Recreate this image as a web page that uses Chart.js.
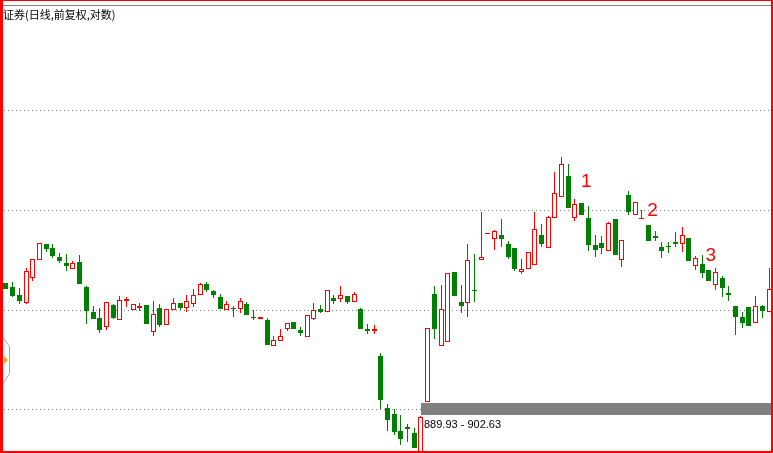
<!DOCTYPE html>
<html><head><meta charset="utf-8">
<script src="https://cdn.jsdelivr.net/npm/chart.js@4/dist/chart.umd.min.js"></script>
<style>html,body{margin:0;padding:0;background:#fff;overflow:hidden}canvas{display:block}</style>
</head><body>
<canvas id="c" width="773" height="453"></canvas>
<script>
const titleText = '证券(日线,前复权,对数)';

const opens = [1039.99, 1035.08, 1025.35, 1015.71, 1046.13, 1068.60, 1089.00, 1083.86, 1072.40, 1064.84,
1057.30, 1066.09, 1035.08, 1004.97, 997.87, 987.33, 1013.31, 995.52, 1018.10, 1007.34,
1009.72, 1013.31, 981.52, 1009.72, 989.67, 1007.34, 1015.71, 1009.72, 1014.51, 1025.35,
1038.76, 1030.20, 1022.93, 1007.34, 1009.72, 1008.52, 1014.51, 999.06, 996.69, 995.52,
965.43, 971.14, 984.99, 993.18, 983.83, 975.74, 996.69, 1008.52, 1004.97, 1021.71,
1020.50, 1024.14, 1016.91, 1008.52, 984.99, 982.68, 954.09, 897.27, 890.94, 873.23,
877.36, 871.17, 847.83, 903.66, 1026.57, 965.43, 970.00, 1053.58, 1016.91, 1015.71,
1031.42, 1068.60, 1101.94, 1095.43, 1100.63, 1089.00, 1083.86, 1053.58, 1057.30, 1062.32,
1100.63, 1083.86, 1122.94, 1151.14, 1180.04, 1122.94, 1143.02, 1122.94, 1087.71, 1090.29,
1080.03, 1121.61, 1068.60, 1153.87, 1126.94, 1121.61, 1113.71, 1099.33, 1085.14, 1086.43,
1091.57, 1089.00, 1096.73, 1061.07, 1063.58, 1056.06, 1037.53, 1046.13, 1027.78, 1012.11,
999.06, 1010.92, 992.01, 1012.11, 1004.97];

const highs = [1039.99, 1041.21, 1033.86, 1058.56, 1069.86, 1090.29, 1089.00, 1089.00, 1077.49, 1076.22,
1067.35, 1074.94, 1036.31, 1012.11, 1009.72, 1016.91, 1014.51, 1024.14, 1022.93, 1014.51,
1015.71, 1013.31, 1018.10, 1014.51, 1008.52, 1021.71, 1015.71, 1025.35, 1032.63, 1039.99,
1041.21, 1031.42, 1026.57, 1018.10, 1012.11, 1021.71, 1016.91, 1007.34, 999.06, 997.87,
976.90, 984.99, 992.01, 993.18, 987.33, 1001.42, 1015.71, 1013.31, 1031.42, 1025.35,
1036.31, 1024.14, 1028.99, 1009.72, 990.84, 989.67, 957.48, 901.53, 896.20, 889.89,
880.48, 876.32, 888.84, 986.16, 1036.31, 1037.53, 1052.34, 1053.58, 1037.53, 1089.00,
1076.22, 1130.93, 1103.24, 1107.14, 1121.61, 1092.86, 1083.86, 1069.86, 1078.76, 1130.93,
1115.03, 1125.61, 1185.63, 1206.81, 1196.89, 1148.41, 1143.02, 1138.97, 1100.63, 1099.33,
1117.66, 1121.61, 1094.14, 1159.32, 1144.37, 1133.60, 1113.71, 1105.84, 1091.57, 1091.57,
1104.54, 1111.07, 1096.73, 1073.67, 1074.94, 1056.06, 1058.56, 1048.61, 1036.31, 1012.11,
1004.97, 1010.92, 1024.14, 1013.31, 1058.56];

const lows = [1032.63, 1022.93, 1014.51, 1014.51, 1042.44, 1068.60, 1078.76, 1071.13, 1064.84, 1054.82,
1057.30, 1038.76, 990.84, 996.69, 980.37, 983.83, 996.69, 995.52, 1010.92, 1007.34,
1006.15, 990.84, 976.90, 987.33, 989.67, 1007.34, 1007.34, 1004.97, 1010.92, 1025.35,
1028.99, 1021.71, 1008.52, 1007.34, 999.06, 1003.79, 1001.42, 995.52, 996.69, 966.57,
965.43, 971.14, 982.68, 984.99, 976.90, 975.74, 995.52, 1003.79, 1004.97, 1014.51,
1016.91, 1014.51, 1016.91, 984.99, 979.21, 979.21, 896.20, 873.23, 869.12, 858.91,
861.96, 855.87, 845.82, 903.66, 973.43, 965.43, 970.00, 1024.14, 1003.79, 999.06,
1016.91, 1068.60, 1101.94, 1081.30, 1085.14, 1069.86, 1054.82, 1051.10, 1057.30, 1062.32,
1085.14, 1083.86, 1122.94, 1151.14, 1136.28, 1118.98, 1126.94, 1080.03, 1072.40, 1076.22,
1080.03, 1074.94, 1059.81, 1126.94, 1126.94, 1121.61, 1092.86, 1092.86, 1071.13, 1077.49,
1085.14, 1078.76, 1067.35, 1056.06, 1046.13, 1042.44, 1031.42, 1022.93, 1018.10, 978.05,
986.16, 988.50, 992.01, 997.87, 1004.97];

const closes = [1032.63, 1024.14, 1018.10, 1054.82, 1069.86, 1090.29, 1082.57, 1073.67, 1067.35, 1061.07,
1064.84, 1038.76, 1006.15, 996.69, 983.83, 1016.91, 997.87, 1019.30, 1020.50, 1014.51,
1012.11, 990.84, 1002.61, 989.67, 1008.52, 1015.71, 1009.72, 1018.10, 1025.35, 1038.76,
1031.42, 1025.35, 1008.52, 1014.51, 1008.52, 1018.10, 1001.42, 997.87, 999.06, 966.57,
972.29, 976.90, 992.01, 984.99, 980.37, 1001.42, 1007.34, 1004.97, 1031.42, 1018.10,
1025.35, 1016.91, 1026.57, 984.99, 982.68, 984.99, 905.79, 884.64, 872.20, 865.01,
875.28, 855.87, 887.78, 986.16, 984.99, 1008.52, 1052.34, 1024.14, 1012.11, 1068.60,
1030.20, 1072.40, 1103.24, 1105.84, 1095.43, 1072.40, 1057.30, 1057.30, 1078.76, 1108.44,
1089.00, 1124.27, 1156.59, 1196.89, 1136.28, 1141.67, 1126.94, 1087.71, 1081.30, 1083.86,
1116.34, 1074.94, 1094.14, 1130.93, 1144.37, 1122.94, 1092.86, 1096.73, 1080.03, 1085.14,
1089.00, 1100.63, 1067.35, 1071.13, 1052.34, 1042.44, 1053.58, 1033.86, 1025.35, 999.06,
992.01, 988.50, 1012.11, 1006.15, 1032.63];

const categories = opens.map((_, i) => String(i + 1));

const gridPrices = [1275.67, 1133.60, 1007.34, 896.20];
const axisMin = 850.84, axisMax = 1452.61;

const bandLow = 889.93, bandHigh = 902.63, bandStartIndex = 62;
const bandLabel = '889.93 - 902.63';

const markLabels = ['1', '2', '3'];
const markIndex = [86.7, 96.6, 105.3];
const markPrice = [1164.81, 1125.61, 1067.35];

const UP = '#ff0000', DOWN = '#008000';
const isUp = closes.map((c, i) => c >= opens[i]);

const snapPlugin = {
  id: 'snap',
  beforeDatasetsDraw(chart) {
    const ctx = chart.ctx;
    const ys = chart.scales.y;
    ctx.save();
    ctx.strokeStyle = '#808080';
    ctx.lineWidth = 1;
    ctx.setLineDash([1, 3]);
    gridPrices.forEach(p => {
      const y = Math.round(ys.getPixelForValue(p)) + 0.5;
      ctx.beginPath();
      ctx.moveTo(4, y);
      ctx.lineTo(771, y);
      ctx.stroke();
    });
    ctx.restore();
    chart.data.datasets.forEach((ds, di) => {
      const meta = chart.getDatasetMeta(di);
      meta.data.forEach(el => {
        el.x = Math.floor(el.x) + 0.5;
        const y = Math.round(el.y), b = Math.round(el.base);
        el.y = Math.min(y, b);
        el.base = (b === y) ? y + 1 : Math.max(y, b);
      });
    });
  },
  afterDatasetsDraw(chart) {
    const ctx = chart.ctx;
    const xs = chart.scales.x, ys = chart.scales.y;
    const x0 = Math.floor(xs.getPixelForValue(bandStartIndex)) + 1;
    const yt = Math.round(ys.getPixelForValue(bandHigh));
    const yb = Math.round(ys.getPixelForValue(bandLow));
    ctx.save();
    ctx.fillStyle = '#808080';
    ctx.fillRect(x0, yt, chart.width - x0, yb - yt);
    ctx.fillStyle = '#000';
    ctx.font = '11px "Liberation Sans", Arial, sans-serif';
    ctx.textBaseline = 'alphabetic';
    ctx.textAlign = 'left';
    ctx.fillText(bandLabel, x0 + 3, yb + 13);
    ctx.fillStyle = '#ff0000';
    ctx.font = '19px "Liberation Sans", Arial, sans-serif';
    ctx.textAlign = 'center';
    markLabels.forEach((t, i) => {
      ctx.fillText(t, xs.getPixelForValue(markIndex[i]), ys.getPixelForValue(markPrice[i]));
    });
    ctx.restore();
  },
  afterDraw(chart) {
    const ctx = chart.ctx;
    const W = chart.width, H = chart.height;
    ctx.save();
    ctx.fillStyle = '#000';
    ctx.font = '11px "Noto Sans CJK SC", sans-serif';
    ctx.textBaseline = 'alphabetic';
    ctx.textAlign = 'left';
    ctx.fillText(titleText, 3, 19);
    ctx.fillStyle = '#808080';
    ctx.fillRect(3, 5, W - 5, 1);
    ctx.strokeStyle = '#a8a8a8';
    ctx.lineWidth = 1;
    ctx.beginPath();
    ctx.moveTo(3, 337.5);
    ctx.lineTo(9.5, 346.5);
    ctx.lineTo(9.5, 373.5);
    ctx.lineTo(3, 383.5);
    ctx.stroke();
    ctx.fillStyle = '#f0a020';
    ctx.beginPath();
    ctx.moveTo(4, 356);
    ctx.lineTo(8, 360);
    ctx.lineTo(4, 364);
    ctx.closePath();
    ctx.fill();
    ctx.fillStyle = '#ff0000';
    ctx.fillRect(0, 0, 3, H);
    ctx.fillRect(0, 0, W, 1);
    ctx.fillRect(W - 2, 0, 2, H);
    ctx.fillRect(0, H - 2, W, 2);
    ctx.restore();
  }
};

new Chart(document.getElementById('c'), {
  type: 'bar',
  data: {
    labels: categories,
    datasets: [
      {
        label: 'wick',
        data: lows.map((l, i) => [l, highs[i]]),
        backgroundColor: isUp.map(u => u ? UP : DOWN),
        borderWidth: 0,
        barThickness: 1,
        grouped: false,
        inflateAmount: 0,
        order: 2
      },
      {
        label: 'body',
        data: opens.map((o, i) => [o, closes[i]]),
        backgroundColor: isUp.map(u => u ? '#ffffff' : DOWN),
        borderColor: isUp.map(u => u ? UP : DOWN),
        borderWidth: 1,
        borderSkipped: false,
        barThickness: 5,
        grouped: false,
        inflateAmount: 0,
        order: 1
      }
    ]
  },
  options: {
    responsive: false,
    devicePixelRatio: 1,
    animation: false,
    events: [],
    layout: { padding: { left: 2.65, right: 0.6, top: 0, bottom: 0 } },
    plugins: { legend: { display: false }, tooltip: { enabled: false }, title: { display: false } },
    scales: {
      x: { display: false, offset: true },
      y: { type: 'logarithmic', display: false, min: axisMin, max: axisMax, bounds: 'data' }
    }
  },
  plugins: [snapPlugin]
});
</script>
</body></html>
